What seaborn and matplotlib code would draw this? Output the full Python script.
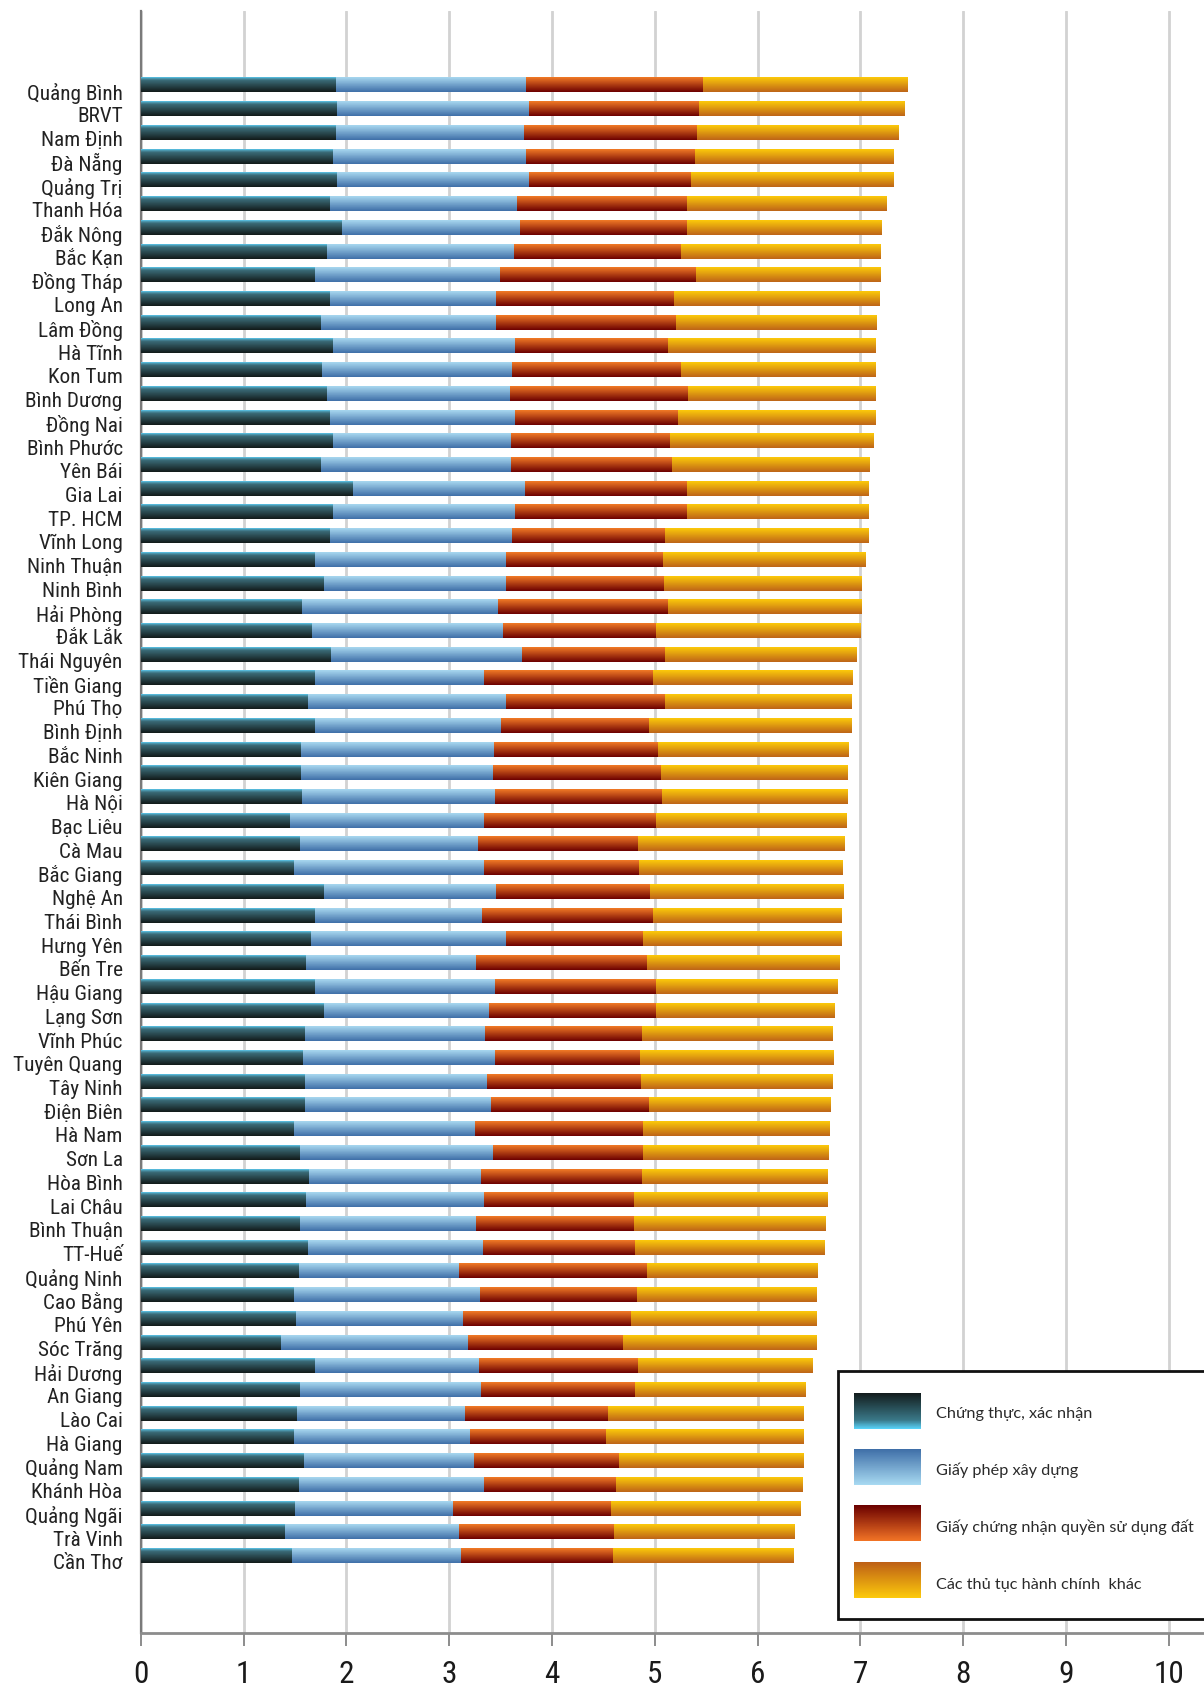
import numpy as np
import pandas as pd
import matplotlib
matplotlib.use("Agg")
import matplotlib.pyplot as plt
from matplotlib import font_manager
from matplotlib.colors import LinearSegmentedColormap
from matplotlib.patches import Rectangle
from matplotlib.transforms import ScaledTranslation
import seaborn as sns

# ---------------------------------------------------------------- data
provinces = [
    "Quảng Bình", "BRVT", "Nam Định", "Đà Nẵng", "Quảng Trị", "Thanh Hóa",
    "Đắk Nông", "Bắc Kạn", "Đồng Tháp", "Long An", "Lâm Đồng", "Hà Tĩnh",
    "Kon Tum", "Bình Dương", "Đồng Nai", "Bình Phước", "Yên Bái", "Gia Lai",
    "TP. HCM", "Vĩnh Long", "Ninh Thuận", "Ninh Bình", "Hải Phòng", "Đắk Lắk",
    "Thái Nguyên", "Tiền Giang", "Phú Thọ", "Bình Định", "Bắc Ninh",
    "Kiên Giang", "Hà Nội", "Bạc Liêu", "Cà Mau", "Bắc Giang", "Nghệ An",
    "Thái Bình", "Hưng Yên", "Bến Tre", "Hậu Giang", "Lạng Sơn", "Vĩnh Phúc",
    "Tuyên Quang", "Tây Ninh", "Điện Biên", "Hà Nam", "Sơn La", "Hòa Bình",
    "Lai Châu", "Bình Thuận", "TT-Huế", "Quảng Ninh", "Cao Bằng", "Phú Yên",
    "Sóc Trăng", "Hải Dương", "An Giang", "Lào Cai", "Hà Giang", "Quảng Nam",
    "Khánh Hòa", "Quảng Ngãi", "Trà Vinh", "Cần Thơ",
]

chung_thuc = [
    1.90, 1.91, 1.90, 1.87, 1.91, 1.84, 1.96, 1.81, 1.69, 1.84, 1.75, 1.87,
    1.76, 1.81, 1.84, 1.87, 1.75, 2.06, 1.87, 1.84, 1.69, 1.78, 1.57, 1.67,
    1.85, 1.69, 1.63, 1.69, 1.56, 1.56, 1.57, 1.45, 1.55, 1.49, 1.78, 1.69,
    1.66, 1.61, 1.69, 1.78, 1.60, 1.58, 1.60, 1.60, 1.49, 1.55, 1.64, 1.61,
    1.55, 1.63, 1.54, 1.49, 1.51, 1.36, 1.69, 1.55, 1.52, 1.49, 1.59, 1.54,
    1.50, 1.40, 1.47,
]

giay_phep_xay_dung = [
    1.85, 1.87, 1.83, 1.88, 1.87, 1.82, 1.73, 1.82, 1.80, 1.62, 1.71, 1.77,
    1.85, 1.78, 1.80, 1.73, 1.85, 1.68, 1.77, 1.77, 1.86, 1.77, 1.90, 1.85,
    1.86, 1.65, 1.92, 1.81, 1.88, 1.87, 1.88, 1.89, 1.73, 1.85, 1.68, 1.63,
    1.89, 1.65, 1.76, 1.61, 1.75, 1.87, 1.77, 1.81, 1.76, 1.88, 1.67, 1.73,
    1.71, 1.70, 1.56, 1.81, 1.62, 1.82, 1.60, 1.76, 1.63, 1.71, 1.65, 1.80,
    1.54, 1.70, 1.64,
]

giay_cn_quyen_sd_dat = [
    1.72, 1.65, 1.68, 1.64, 1.57, 1.65, 1.62, 1.62, 1.91, 1.73, 1.75, 1.49,
    1.64, 1.73, 1.59, 1.55, 1.57, 1.57, 1.67, 1.49, 1.53, 1.54, 1.66, 1.49,
    1.39, 1.64, 1.55, 1.44, 1.59, 1.63, 1.62, 1.67, 1.56, 1.51, 1.49, 1.66,
    1.34, 1.66, 1.56, 1.62, 1.53, 1.41, 1.50, 1.53, 1.64, 1.46, 1.57, 1.46,
    1.54, 1.48, 1.82, 1.53, 1.64, 1.51, 1.55, 1.50, 1.39, 1.33, 1.41, 1.28,
    1.53, 1.50, 1.48,
]

thu_tuc_khac = [
    1.99, 2.00, 1.96, 1.93, 1.97, 1.94, 1.89, 1.94, 1.79, 2.00, 1.95, 2.02,
    1.89, 1.82, 1.92, 1.98, 1.92, 1.77, 1.77, 1.98, 1.97, 1.92, 1.88, 1.99,
    1.86, 1.94, 1.81, 1.97, 1.85, 1.81, 1.80, 1.85, 2.01, 1.98, 1.88, 1.83,
    1.93, 1.87, 1.77, 1.74, 1.85, 1.88, 1.86, 1.77, 1.81, 1.80, 1.80, 1.88,
    1.86, 1.84, 1.66, 1.75, 1.80, 1.88, 1.70, 1.66, 1.90, 1.92, 1.79, 1.81,
    1.84, 1.76, 1.76,
]

series_labels = [
    "Chứng thực, xác nhận",
    "Giấy phép xây dựng",
    "Giấy chứng nhận quyền sử dụng đất",
    "Các thủ tục hành chính  khác",
]

x_ticks = list(range(0, 11))

# ---------------------------------------------------------------- fonts
_installed = {f.name for f in font_manager.fontManager.ttflist}


def pick(cands, default="DejaVu Sans"):
    for c in cands:
        if c in _installed:
            return c
    return default


narrow_font = pick(["Liberation Sans Narrow", "Roboto Condensed", "Open Sans Condensed"])
legend_font = pick(["Lato", "Noto Sans", "Open Sans"])

# ---------------------------------------------------------------- colours (top -> bottom of a bar)
bar_grads = [
    [(0.00, "#5ccaf0"), (0.10, "#4a93a8"), (0.22, "#3a6a76"), (1.00, "#121a19")],
    [(0.00, "#a8d8f0"), (1.00, "#3f6fa8")],
    [(0.00, "#f27a26"), (1.00, "#6c0000")],
    [(0.00, "#fcca0a"), (1.00, "#be6418")],
]
legend_grads = [
    [(0.00, "#131d1d"), (0.75, "#3a7888"), (1.00, "#5ad4fa")],
    [(0.00, "#3f6fa8"), (1.00, "#a8daf2")],
    [(0.00, "#6a0000"), (1.00, "#f27426")],
    [(0.00, "#be6016"), (1.00, "#fdca0c")],
]


def gradient_image(stops, n=128):
    cmap = LinearSegmentedColormap.from_list("g", stops)
    rgba = cmap(np.linspace(0, 1, n))
    return np.repeat(rgba[:, None, :], 2, axis=1)


# ---------------------------------------------------------------- figure
W, H = 1204, 1691
sns.set_theme(style="white")
plt.rcParams["font.family"] = [narrow_font, "DejaVu Sans"]

fig = plt.figure(figsize=(W / 100, H / 100), dpi=100)
fig.patch.set_facecolor("white")

ax_left_px, ax_top_px, ax_bottom_px = 140.8, 11.0, 1632.7
ax = fig.add_axes([ax_left_px / W, (H - ax_bottom_px) / H,
                   (W - ax_left_px) / W, (ax_bottom_px - ax_top_px) / H])
ax.set_facecolor("white")

df = pd.DataFrame({
    "province": provinces,
    "s1": chung_thuc,
    "s2": giay_phep_xay_dung,
    "s3": giay_cn_quyen_sd_dat,
    "s4": thu_tuc_khac,
})

lefts = np.zeros(len(provinces))
for k, col in enumerate(["s1", "s2", "s3", "s4"]):
    n_before = len(ax.patches)
    sns.barplot(data=df, y="province", x=col, order=provinces, orient="h",
                left=lefts.copy(), width=0.61, color="#888888",
                errorbar=None, linewidth=0, ax=ax)
    img = gradient_image(bar_grads[k])
    for p in ax.patches[n_before:]:
        x0, y0 = p.get_x(), p.get_y()
        w, h = p.get_width(), p.get_height()
        p.set_visible(False)
        ax.imshow(img, extent=(x0, x0 + w, y0 + h, y0), origin="upper",
                  aspect="auto", interpolation="nearest", zorder=3)
    lefts = lefts + df[col].to_numpy()

n = len(provinces)
ax.set_xlim(0, (W - ax_left_px) / 102.8)
ax.set_ylim(n - 1 + 3.24, -3.13)
ax.set_xlabel("")
ax.set_ylabel("")

ax.set_xticks(x_ticks)
ax.set_xticklabels([str(t) for t in x_ticks])
ax.grid(axis="x", color="#d2d2d2", linewidth=2.0, zorder=0)
ax.grid(axis="y", visible=False)
ax.set_axisbelow(True)

for s in ["top", "right"]:
    ax.spines[s].set_visible(False)
ax.spines["left"].set_color("#7a7a7a")
ax.spines["left"].set_linewidth(1.6)
ax.spines["bottom"].set_color("#8c8c8c")
ax.spines["bottom"].set_linewidth(2.0)

ax.tick_params(axis="x", direction="out", length=9, width=1.4, color="#8c8c8c",
               pad=11, labelsize=22.5, labelcolor="#1a1a1a", bottom=True)
ax.tick_params(axis="y", length=0, pad=13, labelsize=15.3, labelcolor="#222222")

shift = ScaledTranslation(0, -6 / 100, fig.dpi_scale_trans)
for lab in ax.get_yticklabels():
    lab.set_transform(lab.get_transform() + shift)

# ---------------------------------------------------------------- legend box (pixel overlay)
lax = fig.add_axes([0, 0, 1, 1], zorder=10)
lax.set_xlim(0, W)
lax.set_ylim(H, 0)
lax.axis("off")
lax.patch.set_alpha(0)

lax.add_patch(Rectangle((838, 1371), 420, 248, facecolor="white",
                        edgecolor="#111111", linewidth=2.0, zorder=1))
sw_x0, sw_x1 = 854, 921
sw_tops = [1393, 1449, 1505, 1562]
text_dy = [21, 21, 22, 23]
for k, top in enumerate(sw_tops):
    lax.imshow(gradient_image(legend_grads[k]), extent=(sw_x0, sw_x1, top + 36, top),
               origin="upper", aspect="auto", interpolation="nearest", zorder=2)
    lax.text(936, top + text_dy[k], series_labels[k], ha="left", va="center",
             fontsize=11.7, color="#2a2a2a", family=[legend_font, "DejaVu Sans"],
             zorder=3)
lax.set_xlim(0, W)
lax.set_ylim(H, 0)

fig.savefig("out.png", dpi=100, facecolor="white")
